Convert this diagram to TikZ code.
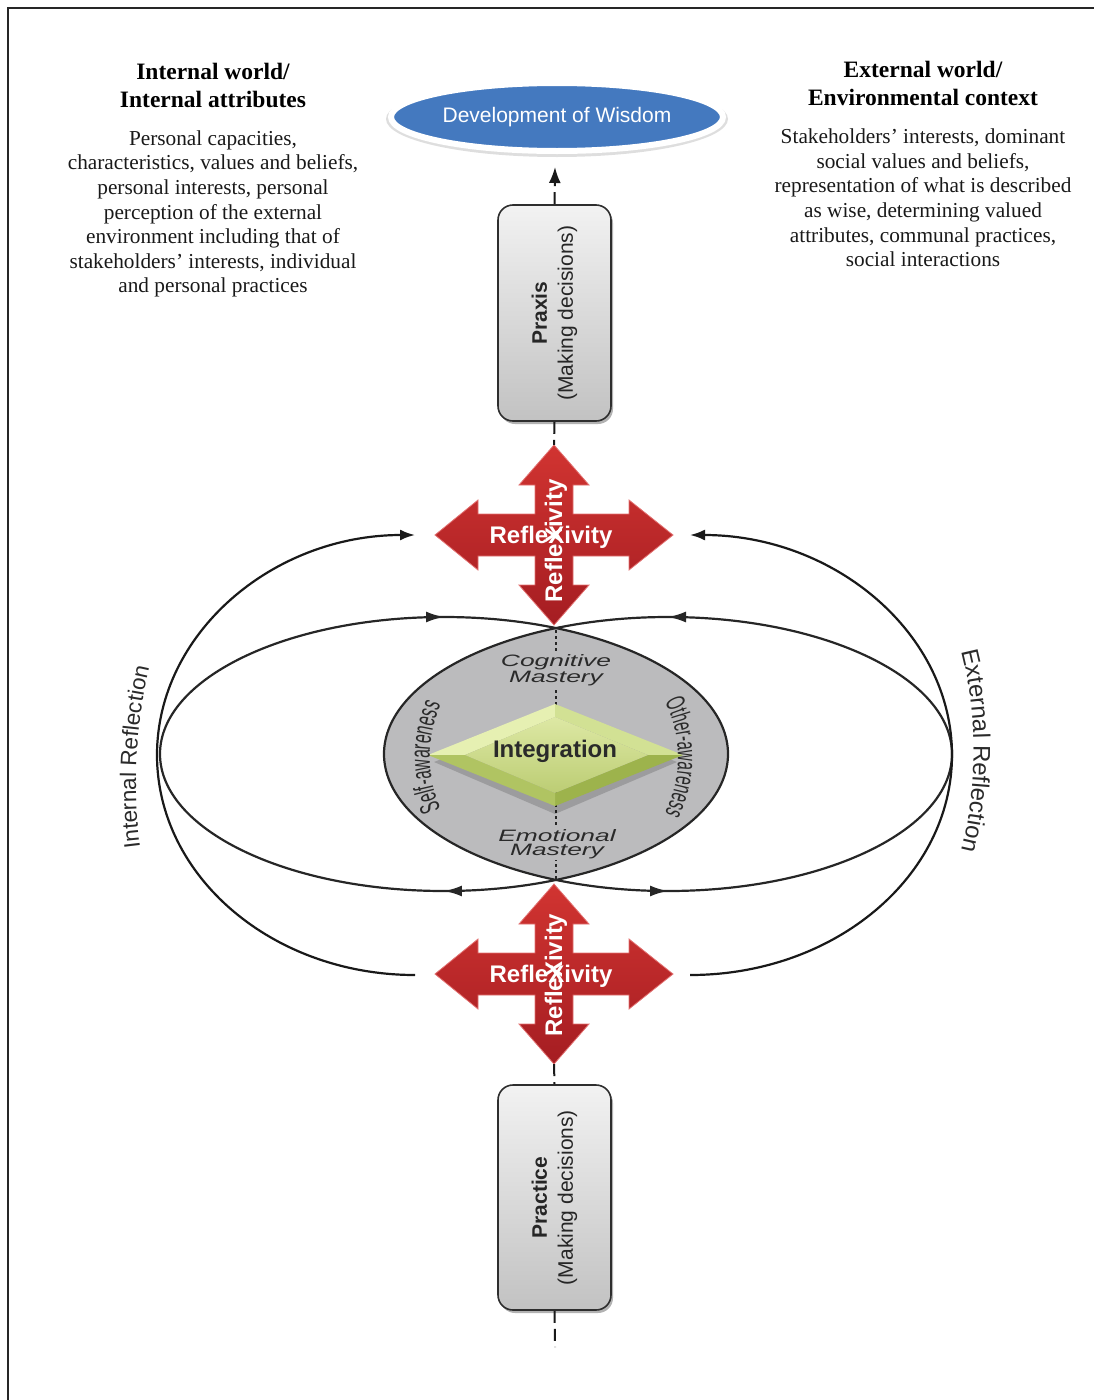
\documentclass[tikz,border=0pt]{standalone}
\usepackage{fontspec}
\setmainfont{Liberation Serif}
\setsansfont{Liberation Sans}
\newfontfamily\narrowsans[FakeStretch=0.56]{Liberation Sans}
\usetikzlibrary{arrows.meta,shapes.geometric,decorations.markings,decorations.text,shadows}

\definecolor{wisdomblue}{HTML}{4479BF}
\definecolor{boxlight}{HTML}{F2F2F2}
\definecolor{boxdark}{HTML}{C2C2C2}
\definecolor{boxedge}{HTML}{2E2E2E}
\definecolor{redtop}{HTML}{D13431}
\definecolor{redbot}{HTML}{A51D22}
\definecolor{redline}{HTML}{E27171}
\definecolor{lensgray}{HTML}{BBBBBD}
\definecolor{diatl}{HTML}{E6F0B2}
\definecolor{diatr}{HTML}{D2E194}
\definecolor{diabr}{HTML}{9DB34C}
\definecolor{diabl}{HTML}{B0C462}
\definecolor{diafaceA}{HTML}{DDE8A4}
\definecolor{diafaceB}{HTML}{BCCD74}
\definecolor{inktext}{HTML}{2A2A2A}

\tikzset{
  headtext/.style={font=\fontsize{23.5}{28}\selectfont\bfseries, align=center, inner sep=0pt},
  bodytext/.style={font=\fontsize{21.3}{24.6}\selectfont, align=center, inner sep=0pt, text=black!90},
  decisionbox/.style={draw=boxedge, line width=1.6pt, rounded corners=15pt,
    top color=boxlight, bottom color=boxdark, minimum width=113pt, minimum height=#1,
    inner sep=0pt, drop shadow={shadow xshift=2pt, shadow yshift=-3pt, opacity=0.3, fill=black}},
  boxlabel/.style={rotate=90, font=\sffamily\fontsize{21}{26}\selectfont, align=center,
    inner sep=0pt, text=black!85},
  dashlink/.style={draw=black!90, line width=2pt, dash pattern=on 12pt off 6pt},
  loopline/.style={draw=black!85, line width=2.2pt},
  midtips/.style={postaction={decorate}, decoration={markings,
    mark=at position 0.25 with {\arrow{Latex[length=18pt,width=11pt]}},
    mark=at position 0.75 with {\arrow{Latex[length=18pt,width=11pt]}}}},
  reflarc/.style={draw=black!90, line width=2.2pt, -{Latex[length=15pt,width=11pt]}},
  crossframe/.style={minimum width=238pt, minimum height=180pt, inner sep=0pt},
  crosstext/.style={text=white, font=\sffamily\bfseries\fontsize{24}{24}\selectfont, inner sep=0pt},
  lenstext/.style={text=inktext, fill=lensgray, font=\sffamily\itshape\fontsize{16.5}{14.5}\selectfont,
    align=center, inner sep=1pt},
}

\begin{document}
\begin{tikzpicture}[x=1pt,y=-1pt]
\useasboundingbox (0,0) rectangle (1094,1400);

% page frame
\draw[line width=2pt, black!85] (8,1400) -- (8,8) -- (1094,8);

% column headings and descriptions
\node[headtext] (inhead) at (213,85) {Internal world/\\Internal attributes};
\node[bodytext] (inbody) at (213,214) {Personal capacities,\\characteristics, values and beliefs,\\personal interests, personal\\perception of the external\\environment including that of\\stakeholders’ interests, individual\\and personal practices};
\node[headtext] (exhead) at (923,83) {External world/\\Environmental context};
\node[bodytext] (exbody) at (923,198) {Stakeholders’ interests, dominant\\social values and beliefs,\\representation of what is described\\as wise, determining valued\\attributes, communal practices,\\social interactions};

% goal ellipse with a soft rim
\fill[black, opacity=0.13] (557,119) ellipse [x radius=171, y radius=38];
\node[ellipse, fill=wisdomblue, draw=white, line width=6pt, minimum width=332pt,
      minimum height=68pt, inner sep=0pt, text=white,
      font=\sffamily\fontsize{21}{21}\selectfont] (wisdom) at (557,117) {Development of Wisdom};

% overlapping loops: shared region
\begin{scope}
  \clip (444,754) ellipse [x radius=284, y radius=137];
  \fill[lensgray] (668,754) ellipse [x radius=284, y radius=137];
\end{scope}
\draw[black!85, line width=1.6pt, dash pattern=on 3pt off 3pt] (556,630) -- (556,879);

% integration diamond with bevel
\fill[black, opacity=0.16] (434,762) -- (555,714) -- (677,762) -- (555,814) -- cycle;
\fill[diatl] (428,755) -- (555,704) -- (555,717) -- (465,755) -- cycle;
\fill[diatr] (555,704) -- (683,755) -- (648,755) -- (555,717) -- cycle;
\fill[diabr] (683,755) -- (555,806) -- (555,793) -- (648,755) -- cycle;
\fill[diabl] (555,806) -- (428,755) -- (465,755) -- (555,793) -- cycle;
\shade[top color=diafaceA, bottom color=diafaceB] (465,755) -- (555,717) -- (648,755) -- (555,793) -- cycle;
\node[text=inktext, font=\sffamily\bfseries\fontsize{24}{24}\selectfont, inner sep=0pt] (integ) at (555,751) {Integration};

% labels inside the shared region
\node[lenstext] (cogn) at (556,670) {\scalebox{1.6}[1]{Cognitive}\\\scalebox{1.6}[1]{Mastery}};
\node[lenstext] (emot) at (557,844) {\scalebox{1.6}[1]{Emotional}\\\scalebox{1.6}[1]{Mastery}};
\path[decorate, decoration={text along path, text align=center,
  text={|\narrowsans\fontsize{28}{28}\selectfont\color{inktext}|Self-awareness}}]
  (441,810) .. controls (426,775) and (426,740) .. (441,704);
\path[decorate, decoration={text along path, text align=center,
  text={|\narrowsans\fontsize{27}{27}\selectfont\color{inktext}|Other-awareness}}]
  (663,698) .. controls (683,735) and (683,780) .. (663,817);

% the two reflection loops
\draw[loopline, midtips] (728,754) arc [start angle=0, end angle=360, x radius=284, y radius=137];
\draw[loopline, midtips] (952,754) arc [start angle=0, end angle=-360, x radius=284, y radius=137];

% outer reflection arcs
\coordinate (inBot) at (415,975);
\coordinate (exBot) at (690,975);
\draw[reflarc] (inBot) arc [start angle=90, end angle=270, x radius=258, y radius=220];
\draw[reflarc] (exBot) arc [start angle=90, end angle=-90, x radius=262, y radius=220];

\path[decorate, decoration={text along path, text align=center,
  text={|\sffamily\fontsize{22.5}{22.5}\selectfont\color{inktext}|Internal Reflection}}]
  (141,855) .. controls (132,790) and (135,725) .. (151,660);
\path[decorate, decoration={text along path, text align=center,
  text={|\sffamily\fontsize{24}{24}\selectfont\color{inktext}|External Reflection}}]
  (960,645) .. controls (978,710) and (978,790) .. (960,857);

% reflexivity crosses
\foreach \cy/\nm/\vy in {535/crossA/541, 974/crossB/975} {
  \begin{scope}[shift={(554,\cy)}]
    \draw[top color=redtop, bottom color=redbot, draw=redline, line width=0.8pt]
      (0,-90) -- (35,-50) -- (19,-50) -- (19,-21) -- (75,-21) -- (75,-35) -- (119,0)
      -- (75,35) -- (75,21) -- (19,21) -- (19,50) -- (35,50) -- (0,90)
      -- (-35,50) -- (-19,50) -- (-19,21) -- (-76,21) -- (-76,35) -- (-119,0)
      -- (-76,-35) -- (-76,-21) -- (-19,-21) -- (-19,-50) -- (-35,-50) -- cycle;
  \end{scope}
  \node[crossframe] (\nm) at (554,\cy) {};
  \node[crosstext, rotate=90] (\nm-v) at (556,\vy) {RefleXivity};
  \node[crosstext] (\nm-h) at (551,\cy+2) {RefleXivity};
}

% decision boxes
\node[decisionbox=216pt] (praxis) at (554.5,313) {};
\node[boxlabel] (praxislbl) at (praxis.center) {\textbf{Praxis}\\(Making decisions)};
\node[decisionbox=225pt] (practice) at (554.5,1197.5) {};
\node[boxlabel] (practicelbl) at (practice.center) {\textbf{Practice}\\(Making decisions)};

% vertical links
\coordinate (wisdomtip) at (555,167);
\coordinate (tailend) at (555,1347);
\draw[dashlink, -{Latex[length=16pt,width=12pt]}] (praxis.north) -- (wisdomtip);
\draw[dashlink] (praxis.south) -- (crossA.north);
\draw[dashlink] (crossB.south) -- (practice.north);
\draw[dashlink] (practice.south) -- (tailend);
\end{tikzpicture}
\end{document}
